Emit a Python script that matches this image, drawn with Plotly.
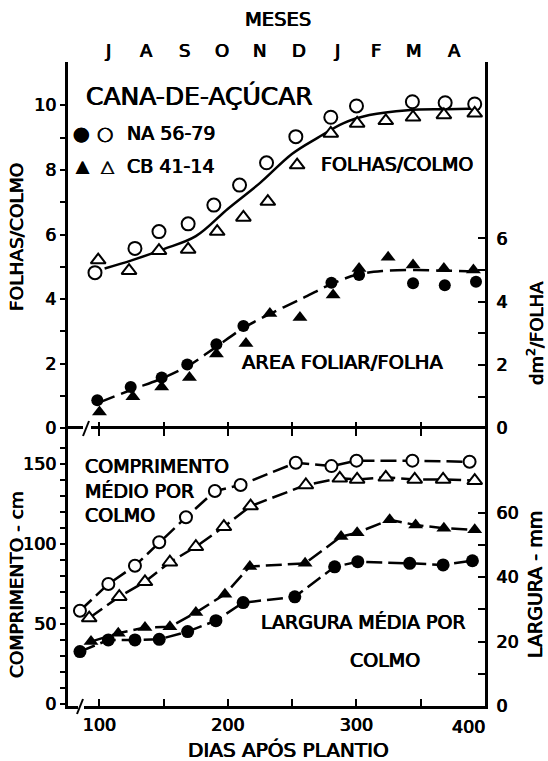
import plotly.graph_objects as go

# ---------------- DATA ----------------
# Upper panel: leaves per stalk (FOLHAS/COLMO) - left axis
folhas_na_dias = [96.5, 127.6, 146.3, 169, 189, 209, 230, 252.8, 280, 300, 343.5, 369, 392]
folhas_na = [4.82, 5.57, 6.09, 6.33, 6.91, 7.53, 8.22, 9.03, 9.63, 9.98, 10.11, 10.08, 10.04]
folhas_cb_dias = [99, 123, 146.3, 169, 191.6, 212, 231, 253.8, 280, 300.5, 322.8, 344, 368, 392]
folhas_cb = [5.21, 4.88, 5.5, 5.54, 6.09, 6.53, 7.02, 8.15, 9.13, 9.44, 9.52, 9.63, 9.7, 9.75]
folhas_curva_dias = [104, 125, 150, 175, 200, 225, 250, 270, 290, 310, 340, 370, 396]
folhas_curva = [4.95, 5.2, 5.55, 5.95, 6.8, 7.6, 8.5, 9.0, 9.45, 9.7, 9.85, 9.88, 9.9]

# Upper panel: leaf area per leaf (dm2/FOLHA) - right axis
area_na_dias = [98.3, 124.3, 148.4, 168.3, 191, 212, 280.5, 302, 344, 368.7, 393]
area_na = [0.89, 1.31, 1.61, 2.02, 2.66, 3.23, 4.60, 4.84, 4.58, 4.52, 4.63]
area_cb_dias = [100, 126, 148.4, 170, 191, 214, 232.6, 256, 281.8, 302, 324.6, 344, 368, 391]
area_cb = [0.52, 1.00, 1.31, 1.61, 2.35, 2.68, 3.63, 3.50, 4.21, 5.05, 5.40, 5.16, 5.05, 5.00]
area_curva_dias = [100, 125, 150, 170, 190, 212, 236, 260, 280, 300, 320, 345, 370, 393]
area_curva = [0.82, 1.22, 1.6, 2.0, 2.55, 3.17, 3.68, 4.15, 4.55, 4.85, 4.97, 5.0, 4.98, 4.95]

# Lower panel: stalk length (cm) - left axis
comp_na_dias = [84.8, 106.9, 127.6, 146.5, 167.3, 189.8, 209.8, 252.8, 280.5, 300, 343.5, 388]
comp_na = [58.0, 74.7, 86.1, 100.8, 116.4, 132.8, 136.6, 150.5, 148.4, 151.8, 151.8, 151.1]
comp_cb_dias = [92, 115.4, 135.4, 154.8, 175, 196.8, 217.6, 260.6, 287, 300.5, 322.8, 345.3, 367.4, 392]
comp_cb = [53.4, 66.8, 76.1, 88.3, 98.0, 110.5, 123.4, 136.6, 140.8, 140.1, 141.4, 140.1, 140.1, 139.3]

# Lower panel: stalk width (mm) - right axis
larg_na_dias = [84.8, 106.9, 127.6, 146.5, 168.6, 190.6, 211.8, 252, 283, 301, 341.4, 367.4, 390.2]
larg_na = [16.9, 20.5, 20.5, 20.7, 23.1, 26.5, 32.1, 33.9, 43.2, 44.8, 44.3, 43.8, 45.1]
larg_cb_dias = [93.4, 114.6, 135.4, 154.8, 175, 197.6, 217, 260, 288, 300.5, 325.8, 346, 368, 392]
larg_cb = [20.0, 22.6, 24.4, 24.6, 29.0, 34.7, 43.3, 44.3, 52.6, 53.8, 57.8, 56.2, 55.2, 54.7]

# Axis ticks / labels
x_ticks = [100, 150, 200, 250, 300, 350, 400]
x_ticktext = ["100", " ", "200", " ", "300", " ", " "]
meses_limites = [90, 120.5, 150.4, 180.3, 210.3, 240.1, 271.5, 301.3, 331.3, 361.1, 392.4]
meses_centros = [106.6, 136.9, 166.5, 195.3, 224.9, 255.1, 284.7, 315, 344.6, 376.4]
meses_rotulos = ["J", "A", "S", "O", "N", "D", "J", "F", "M", "A"]
folhas_ticks = [0, 1, 2, 3, 4, 5, 6, 7, 8, 9, 10]
folhas_ticktext = ["0", " ", "2", " ", "4", " ", "6", " ", "8", " ", "10"]
area_ticks = [0, 1, 2, 3, 4, 5, 6]
area_ticktext = ["0", " ", "2", " ", "4", " ", "6"]
comp_ticks = [0, 10, 20, 30, 40, 50, 60, 70, 80, 90, 100, 110, 120, 130, 140, 150, 160]
comp_ticktext = ["0", " ", " ", " ", " ", "50", " ", " ", " ", " ", "100", " ", " ", " ", " ", "150", " "]
larg_ticks = [0, 10, 20, 30, 40, 50, 60]
larg_ticktext = ["0", " ", "20", " ", "40", " ", "60"]

# ---------------- LAYOUT HELPERS ----------------
W, H = 548, 761
L, R, T, B = 68, 485, 62, 706
MID = 429
FONT = "DejaVu Sans"
HEAVY = "0.45px 0 0 black, -0.45px 0 0 black"


def px(x):
    return (x - L) / (R - L)


def py(y):
    return (B - y) / (B - T)


def tfont(size):
    return dict(family=FONT, size=size, color="black", shadow=HEAVY)


split = (B - MID) / (B - T)
xr = [75.5, 400]

fig = go.Figure()


def open_marker(sym, size):
    return dict(symbol=sym, size=size, color="white", line=dict(color="black", width=2))


def fill_marker(sym, size):
    return dict(symbol=sym, size=size, color="black", line=dict(color="black", width=0))


# upper panel
fig.add_trace(go.Scatter(x=folhas_curva_dias, y=folhas_curva, mode="lines",
                         line=dict(color="black", width=2.5, shape="spline"),
                         xaxis="x2", yaxis="y", hoverinfo="skip"))
fig.add_trace(go.Scatter(x=folhas_na_dias, y=folhas_na, mode="markers",
                         marker=open_marker("circle", 13), xaxis="x2", yaxis="y"))
fig.add_trace(go.Scatter(x=folhas_cb_dias, y=folhas_cb, mode="markers",
                         marker=open_marker("triangle-up", 13), xaxis="x2", yaxis="y"))
fig.add_trace(go.Scatter(x=area_curva_dias, y=area_curva, mode="lines",
                         line=dict(color="black", width=2.5, shape="spline", dash="16px,7px"),
                         xaxis="x2", yaxis="y2", hoverinfo="skip"))
fig.add_trace(go.Scatter(x=area_na_dias, y=area_na, mode="markers",
                         marker=fill_marker("circle", 12), xaxis="x2", yaxis="y2"))
fig.add_trace(go.Scatter(x=area_cb_dias, y=area_cb, mode="markers",
                         marker=fill_marker("triangle-up", 13), xaxis="x2", yaxis="y2"))

# lower panel
fig.add_trace(go.Scatter(x=comp_na_dias, y=comp_na, mode="lines+markers",
                         line=dict(color="black", width=2.5, dash="16px,6px"),
                         marker=open_marker("circle", 12), xaxis="x", yaxis="y3"))
fig.add_trace(go.Scatter(x=comp_cb_dias, y=comp_cb, mode="lines+markers",
                         line=dict(color="black", width=2.5, dash="16px,6px"),
                         marker=open_marker("triangle-up", 13), xaxis="x", yaxis="y3"))
fig.add_trace(go.Scatter(x=larg_na_dias, y=larg_na, mode="lines+markers",
                         line=dict(color="black", width=2.5, dash="16px,6px"),
                         marker=fill_marker("circle", 13), xaxis="x", yaxis="y4"))
fig.add_trace(go.Scatter(x=larg_cb_dias, y=larg_cb, mode="lines+markers",
                         line=dict(color="black", width=2.5, dash="16px,6px"),
                         marker=fill_marker("triangle-up", 13), xaxis="x", yaxis="y4"))

axline = dict(linecolor="black", linewidth=3, showgrid=False,
              zeroline=False, tickcolor="black", tickwidth=2, tickfont=tfont(17.5))

fig.update_layout(
    width=W, height=H,
    margin=dict(l=L, r=W - R, t=T, b=H - B, pad=0),
    paper_bgcolor="white", plot_bgcolor="white", showlegend=False,
    font=dict(family=FONT, size=18, color="black"),
    xaxis=dict(domain=[0, 1], range=xr, anchor="y3", tickmode="array", showline=True,
               tickvals=x_ticks, ticktext=x_ticktext, ticks="inside", ticklen=7,
               mirror="ticks", ticklabelstandoff=1, **axline),
    xaxis2=dict(domain=[0, 1], range=xr, anchor="y", tickmode="array", showline=False,
                tickvals=x_ticks, ticks="inside", ticklen=7, showticklabels=False, **axline),
    xaxis3=dict(range=xr, anchor="y", overlaying="x2", side="top", tickmode="array",
                showline=True, tickvals=meses_limites, ticks="inside", ticklen=6,
                showticklabels=False, **axline),
    yaxis=dict(domain=[split, 1], range=[-0.02, 11.34], anchor="x2", tickmode="array",
               showline=True, tickvals=folhas_ticks, ticktext=folhas_ticktext,
               ticks="outside", ticklen=5, ticklabelstandoff=0, **axline),
    yaxis2=dict(range=[-0.02, 11.57], anchor="x2", overlaying="y", side="right",
                showline=True, tickmode="array", tickvals=area_ticks, ticktext=area_ticktext,
                ticks="inside", ticklen=7, ticklabelstandoff=5, **axline),
    yaxis3=dict(domain=[0, split], range=[-1.56, 171.6], anchor="x", tickmode="array",
                showline=True, tickvals=comp_ticks, ticktext=comp_ticktext, ticks="outside",
                ticklen=5, ticklabelstandoff=0, **axline),
    yaxis4=dict(range=[0, 86], anchor="x", overlaying="y3", side="right",
                showline=True, tickmode="array", tickvals=larg_ticks, ticktext=larg_ticktext,
                ticks="inside", ticklen=7, ticklabelstandoff=5, **axline),
)

ann = []


def add_text(text, x, y, size=19, xanchor="center", yanchor="middle", angle=0, xref="paper"):
    ann.append(dict(text=text, x=x, y=y, xref=xref, yref="paper", showarrow=False,
                    xanchor=xanchor, yanchor=yanchor, textangle=angle,
                    font=tfont(size), align="left"))


# months on top
for d, m in zip(meses_centros, meses_rotulos):
    add_text(m, d, py(50), size=18, xref="x2")
add_text("MESES", px(278), py(20), size=19.5)
add_text("400", px(468), py(727), size=17.5)

add_text("CANA-DE-AÇÚCAR", px(84), py(96), size=25, xanchor="left")
add_text("●", px(81.7), py(133), size=19)
add_text("○", px(105), py(133), size=19)
add_text("NA 56-79", px(125), py(133), size=19, xanchor="left")
add_text("▲", px(83), py(166), size=17)
add_text("△", px(108), py(166), size=17)
add_text("CB 41-14", px(125), py(166), size=19, xanchor="left")
add_text("FOLHAS/COLMO", px(397), py(164), size=19)
add_text("AREA FOLIAR/FOLHA", px(342), py(362), size=19.5)
add_text("COMPRIMENTO<br>MÉDIO POR<br>COLMO", px(83), py(490), size=19, xanchor="left")
add_text("LARGURA MÉDIA POR", px(363), py(622), size=19)
add_text("COLMO", px(385), py(660), size=19)

add_text("FOLHAS/COLMO", px(16), py(237), size=18.5, angle=-90)
add_text("COMPRIMENTO - cm", px(16), py(585), size=18.5, angle=-90)
add_text("dm<sup>2</sup>/FOLHA", px(535), py(333), size=18, angle=-90)
add_text("LARGURA - mm", px(535), py(585), size=19, angle=-90)
add_text("DIAS APÓS PLANTIO", px(288), py(750), size=20)

fig.update_layout(annotations=ann)

# axis breaks
shapes = []
for (gx0, gx1, gy, sx0, sy0, sx1, sy1) in [(78, 84, 706, 77, 714, 83, 699),
                                          (83, 91, 429, 83, 436, 89, 421)]:
    shapes.append(dict(type="rect", xref="paper", yref="paper", x0=px(gx0), x1=px(gx1),
                       y0=py(gy + 3), y1=py(gy - 3), fillcolor="white",
                       line=dict(width=0), layer="above"))
    shapes.append(dict(type="line", xref="paper", yref="paper", x0=px(sx0), y0=py(sy0),
                       x1=px(sx1), y1=py(sy1), line=dict(color="black", width=2),
                       layer="above"))
fig.update_layout(shapes=shapes)

fig.write_html("out.html")
